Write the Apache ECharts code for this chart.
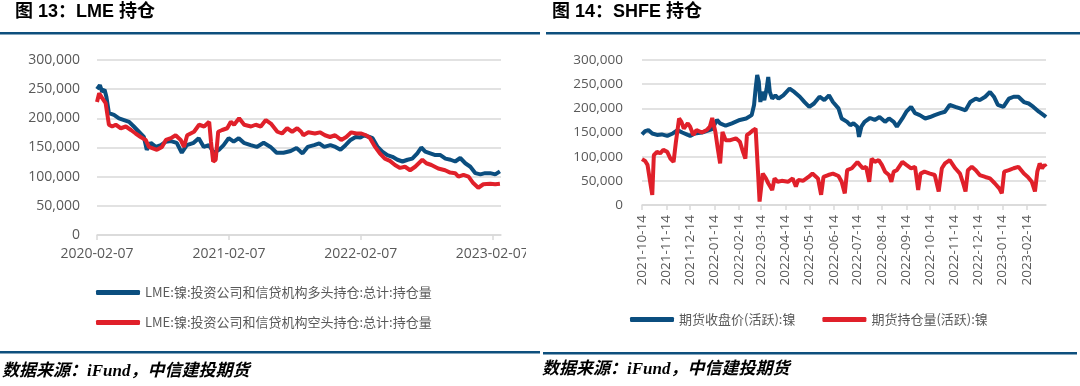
<!DOCTYPE html>
<html><head><meta charset="utf-8">
<script src="https://cdn.jsdelivr.net/npm/echarts@6/dist/echarts.min.js"></script>
<style>html,body{margin:0;padding:0;background:#fff}#c{width:1080px;height:386px}</style>
</head><body><div id="c"></div>
<script>
// ---------- LME chart data ----------
const lmeTicks = ['2020-02-07','2021-02-07','2022-02-07','2023-02-07'];
const lmeLongName = 'LME:镍:投资公司和信贷机构多头持仓:总计:持仓量';
const lmeShortName = 'LME:镍:投资公司和信贷机构空头持仓:总计:持仓量';
const lmeLongDates = ['2020-02-07','2020-02-15','2020-02-21','2020-02-28','2020-03-04','2020-03-11','2020-03-25','2020-04-08','2020-04-22','2020-05-06','2020-05-19','2020-06-02','2020-06-16','2020-06-24','2020-07-05','2020-07-19','2020-08-02','2020-08-16','2020-08-30','2020-09-15','2020-09-29','2020-10-13','2020-11-01','2020-11-15','2020-11-29','2020-12-13','2020-12-27','2021-01-10','2021-01-23','2021-02-06','2021-02-20','2021-03-06','2021-03-20','2021-04-08','2021-04-25','2021-05-14','2021-06-02','2021-06-19','2021-07-08','2021-07-28','2021-08-13','2021-08-24','2021-08-30','2021-09-13','2021-10-01','2021-10-15','2021-10-29','2021-11-15','2021-11-29','2021-12-13','2021-12-27','2022-01-10','2022-01-24','2022-02-06','2022-02-17','2022-03-03','2022-03-12','2022-03-26','2022-04-08','2022-04-22','2022-05-06','2022-05-20','2022-06-03','2022-06-17','2022-06-30','2022-07-14','2022-07-25','2022-08-05','2022-08-19','2022-09-02','2022-09-16','2022-09-30','2022-10-14','2022-10-27','2022-11-10','2022-11-24','2022-12-08','2022-12-22','2023-01-05','2023-01-18','2023-02-01','2023-02-15','2023-02-28'];
const lmeLongVals = [250000,257000,246000,249000,237000,209000,206000,200000,197000,194000,186000,177000,168000,146000,158000,151000,154000,160000,161000,158000,141000,154000,158000,166000,151000,154000,141000,146000,154000,166000,160000,166000,158000,154000,151000,158000,151000,141000,141000,144000,149000,143000,140000,151000,154000,157000,151000,154000,151000,146000,154000,163000,168000,167000,171000,168000,166000,151000,143000,137000,134000,129000,126000,129000,131000,140000,150000,143000,140000,137000,137000,131000,129000,126000,132000,123000,117000,106000,104000,106000,106000,104000,109000];
const lmeShortDates = ['2020-02-07','2020-02-13','2020-02-21','2020-03-02','2020-03-11','2020-03-20','2020-03-30','2020-04-13','2020-04-27','2020-05-11','2020-05-24','2020-06-07','2020-06-21','2020-06-30','2020-07-09','2020-07-22','2020-08-05','2020-08-16','2020-08-30','2020-09-12','2020-09-26','2020-10-05','2020-10-14','2020-11-02','2020-11-16','2020-11-30','2020-12-14','2020-12-19','2020-12-25','2021-01-01','2021-01-08','2021-01-19','2021-02-02','2021-02-12','2021-02-21','2021-03-07','2021-03-21','2021-04-09','2021-04-22','2021-05-06','2021-05-20','2021-06-03','2021-06-21','2021-07-04','2021-07-18','2021-08-01','2021-08-15','2021-08-26','2021-09-01','2021-09-15','2021-10-03','2021-10-17','2021-10-31','2021-11-14','2021-11-28','2021-12-15','2021-12-29','2022-01-12','2022-01-26','2022-02-09','2022-02-22','2022-03-05','2022-03-19','2022-04-01','2022-04-15','2022-04-29','2022-05-13','2022-05-27','2022-06-10','2022-06-24','2022-07-08','2022-07-28','2022-08-08','2022-08-22','2022-09-10','2022-09-29','2022-10-13','2022-10-27','2022-11-05','2022-11-19','2022-12-03','2022-12-16','2022-12-30','2023-01-13','2023-02-01','2023-02-15','2023-02-28'];
const lmeShortVals = [228000,243000,235000,226000,189000,186000,189000,183000,186000,180000,174000,168000,163000,151000,149000,146000,151000,163000,166000,171000,163000,151000,171000,177000,189000,186000,194000,160000,126000,129000,177000,180000,183000,194000,189000,200000,189000,186000,189000,186000,197000,191000,177000,174000,183000,177000,183000,177000,171000,176000,174000,176000,171000,168000,171000,163000,168000,176000,174000,174000,171000,166000,151000,140000,131000,127000,120000,115000,117000,111000,117000,129000,123000,120000,114000,111000,107000,106000,100000,103000,100000,89000,81000,87000,88000,87000,88000];

// ---------- SHFE chart data ----------
const shfeTicks = ['2021-10-14','2021-11-14','2021-12-14','2022-01-14','2022-02-14','2022-03-14','2022-04-14','2022-05-14','2022-06-14','2022-07-14','2022-08-14','2022-09-14','2022-10-14','2022-11-14','2022-12-14','2023-01-14','2023-02-14'];
const shfePriceName = '期货收盘价(活跃):镍';
const shfeOIName = '期货持仓量(活跃):镍';
const shfePriceDates = ['2021-10-14','2021-10-18','2021-10-22','2021-10-27','2021-11-02','2021-11-08','2021-11-15','2021-11-22','2021-11-28','2021-12-04','2021-12-11','2021-12-14','2021-12-20','2021-12-29','2022-01-11','2022-01-17','2022-01-21','2022-01-28','2022-02-05','2022-02-15','2022-02-23','2022-03-02','2022-03-05','2022-03-07','2022-03-09','2022-03-11','2022-03-13','2022-03-15','2022-03-18','2022-03-21','2022-03-23','2022-03-25','2022-03-28','2022-04-01','2022-04-05','2022-04-11','2022-04-19','2022-04-25','2022-05-02','2022-05-08','2022-05-14','2022-05-20','2022-05-27','2022-06-02','2022-06-08','2022-06-13','2022-06-20','2022-06-24','2022-07-01','2022-07-05','2022-07-09','2022-07-14','2022-07-16','2022-07-19','2022-07-23','2022-07-30','2022-08-05','2022-08-11','2022-08-18','2022-08-23','2022-08-29','2022-09-02','2022-09-09','2022-09-14','2022-09-20','2022-09-25','2022-10-01','2022-10-08','2022-10-14','2022-10-20','2022-10-27','2022-11-02','2022-11-08','2022-11-15','2022-11-21','2022-11-28','2022-12-04','2022-12-11','2022-12-16','2022-12-23','2022-12-29','2023-01-03','2023-01-08','2023-01-15','2023-01-22','2023-01-28','2023-02-03','2023-02-10','2023-02-16','2023-02-22','2023-03-01','2023-03-07','2023-03-10'];
const shfePriceVals = [146000,153000,155000,148000,145000,146000,143000,148000,155000,150000,145000,143000,148000,150000,157000,176000,169000,164000,169000,176000,179000,186000,207000,241000,269000,255000,213000,234000,217000,241000,265000,234000,220000,227000,220000,227000,241000,234000,224000,213000,203000,210000,224000,217000,227000,213000,200000,179000,172000,165000,169000,162000,141000,162000,172000,180000,176000,182000,172000,179000,172000,162000,179000,193000,203000,190000,186000,179000,182000,186000,190000,193000,207000,203000,200000,196000,213000,220000,217000,224000,234000,224000,207000,203000,220000,224000,224000,213000,210000,203000,193000,186000,182000];
const shfeOIDates = ['2021-10-14','2021-10-18','2021-10-21','2021-10-25','2021-10-27','2021-10-29','2021-11-02','2021-11-06','2021-11-10','2021-11-15','2021-11-19','2021-11-23','2021-11-26','2021-11-30','2021-12-03','2021-12-06','2021-12-11','2021-12-14','2021-12-18','2021-12-22','2021-12-29','2022-01-04','2022-01-08','2022-01-11','2022-01-15','2022-01-18','2022-01-21','2022-01-24','2022-01-28','2022-02-03','2022-02-10','2022-02-15','2022-02-19','2022-02-22','2022-02-24','2022-02-27','2022-03-04','2022-03-07','2022-03-10','2022-03-12','2022-03-14','2022-03-16','2022-03-20','2022-03-23','2022-03-28','2022-03-31','2022-04-04','2022-04-09','2022-04-17','2022-04-23','2022-04-27','2022-04-30','2022-05-06','2022-05-13','2022-05-18','2022-05-25','2022-05-29','2022-06-01','2022-06-07','2022-06-13','2022-06-20','2022-06-24','2022-06-28','2022-07-01','2022-07-07','2022-07-14','2022-07-17','2022-07-21','2022-07-25','2022-07-29','2022-08-01','2022-08-05','2022-08-10','2022-08-14','2022-08-18','2022-08-23','2022-08-26','2022-08-29','2022-09-02','2022-09-09','2022-09-14','2022-09-20','2022-09-25','2022-09-29','2022-10-02','2022-10-07','2022-10-14','2022-10-20','2022-10-25','2022-10-29','2022-11-02','2022-11-08','2022-11-15','2022-11-21','2022-11-25','2022-11-28','2022-12-01','2022-12-06','2022-12-11','2022-12-16','2022-12-23','2022-12-29','2023-01-04','2023-01-10','2023-01-13','2023-01-16','2023-01-22','2023-01-28','2023-02-03','2023-02-10','2023-02-15','2023-02-20','2023-02-24','2023-02-27','2023-03-02','2023-03-05','2023-03-08','2023-03-10'];
const shfeOIVals = [95000,91000,83000,41000,21000,103000,110000,107000,114000,110000,96000,89000,131000,179000,172000,158000,169000,162000,145000,155000,150000,155000,162000,180000,151000,117000,86000,151000,134000,134000,138000,131000,110000,96000,145000,148000,155000,158000,69000,7000,3000,65000,55000,45000,31000,55000,48000,50000,48000,55000,38000,52000,50000,58000,65000,55000,21000,58000,62000,65000,60000,48000,24000,72000,76000,89000,83000,76000,79000,48000,96000,89000,93000,83000,69000,62000,48000,69000,72000,89000,83000,76000,79000,31000,65000,69000,65000,62000,28000,76000,86000,93000,76000,65000,45000,28000,72000,79000,72000,62000,58000,55000,45000,34000,24000,69000,72000,76000,79000,65000,58000,48000,28000,69000,86000,76000,83000,79000];

// ---------- helpers ----------
const toTs = s => { const p = s.split('-').map(Number); return Date.UTC(p[0], p[1] - 1, p[2]); };
const zip = (d, v) => d.map((x, i) => [toTs(x), v[i]]);
const pad = n => (n < 10 ? '0' : '') + n;
const fmtDate = v => { const d = new Date(v); return d.getUTCFullYear() + '-' + pad(d.getUTCMonth() + 1) + '-' + pad(d.getUTCDate()); };
const fmtNum = v => v.toLocaleString('en-US');

const BLUE = '#0b4e7f', RED = '#e0202a', GRID = '#d9d9d9', TXT = '#595959', RULE = '#0d4f7d';
const numFont = '"Open Sans", "Noto Sans", sans-serif';
const cjkFont = '"Noto Sans CJK SC", sans-serif';

function xAxisCfg(idx, min, max, ticks, rotate, margin, fs) {
  const tv = ticks.map(toTs);
  return {
    type: 'value', gridIndex: idx, min: toTs(min), max: toTs(max), scale: true,
    axisLine: { show: true, lineStyle: { color: GRID, width: 1.5 } },
    axisTick: { show: true, customValues: tv, length: 5, lineStyle: { color: GRID, width: 1.5 } },
    axisLabel: { customValues: tv, formatter: fmtDate, color: TXT, fontSize: fs, fontFamily: numFont, rotate: rotate, margin: margin, hideOverlap: false },
    splitLine: { show: false }
  };
}
function yAxisCfg(idx, margin, fs) {
  return {
    type: 'value', gridIndex: idx, min: 0, max: 300000, interval: 50000,
    axisLine: { show: false }, axisTick: { show: false },
    splitLine: { lineStyle: { color: GRID, width: 1.5 } },
    axisLabel: { formatter: fmtNum, color: TXT, fontSize: fs, fontFamily: numFont, margin: margin }
  };
}
function lineSeries(name, xi, data, color) {
  return { name: name, type: 'line', xAxisIndex: xi, yAxisIndex: xi, data: data, showSymbol: false, symbol: 'none',
    lineStyle: { color: color, width: 4 }, itemStyle: { color: color }, animation: false };
}

const chart = echarts.init(document.getElementById('c'), null, { renderer: 'canvas' });
chart.setOption({
  backgroundColor: '#fff',
  animation: false,
  grid: [
    { left: 97, top: 60, width: 404, height: 175 },
    { left: 642, top: 60, width: 404, height: 145 }
  ],
  xAxis: [
    xAxisCfg(0, '2020-02-07', '2023-03-03', lmeTicks, 0, 12, 14),
    xAxisCfg(1, '2021-10-14', '2023-03-10', shfeTicks, 90, 10, 13.5)
  ],
  yAxis: [yAxisCfg(0, 17, 14), yAxisCfg(1, 19, 13.5)],
  legend: [
    { data: [lmeLongName, lmeShortName], orient: 'vertical', left: 96, top: 286, padding: 0, itemWidth: 44, itemHeight: 5, icon: 'roundRect', itemGap: 17,
      textStyle: { fontSize: 13, color: TXT, fontFamily: cjkFont } },
    { data: [shfePriceName, shfeOIName], orient: 'horizontal', left: 630, top: 313, padding: 0, itemWidth: 44, itemHeight: 5, icon: 'roundRect', itemGap: 27,
      textStyle: { fontSize: 13, color: TXT, fontFamily: cjkFont } }
  ],
  series: [
    lineSeries(lmeLongName, 0, zip(lmeLongDates, lmeLongVals), BLUE),
    lineSeries(lmeShortName, 0, zip(lmeShortDates, lmeShortVals), RED),
    lineSeries(shfePriceName, 1, zip(shfePriceDates, shfePriceVals), BLUE),
    lineSeries(shfeOIName, 1, zip(shfeOIDates, shfeOIVals), RED)
  ],
  graphic: [
    { type: 'rect', z: 100, shape: { x: 526, y: 240, width: 14, height: 24 }, style: { fill: '#fff' } },
    { type: 'text', x: 15, y: 12, style: { text: '图 13：LME 持仓', font: 'bold 18px "Liberation Sans", "Noto Sans CJK SC", sans-serif', fill: '#000', verticalAlign: 'middle' } },
    { type: 'text', x: 552, y: 12, style: { text: '图 14：SHFE 持仓', font: 'bold 18px "Liberation Sans", "Noto Sans CJK SC", sans-serif', fill: '#000', verticalAlign: 'middle' } },
    { type: 'rect', shape: { x: 0, y: 32, width: 540, height: 2.5 }, style: { fill: RULE } },
    { type: 'rect', shape: { x: 546, y: 32, width: 534, height: 2.5 }, style: { fill: RULE } },
    { type: 'rect', shape: { x: 0, y: 351, width: 540, height: 2.5 }, style: { fill: RULE } },
    { type: 'rect', shape: { x: 543, y: 352, width: 534, height: 2.5 }, style: { fill: RULE } },
    { type: 'text', x: 2, y: 372, style: { text: '数据来源：iFund，中信建投期货', font: 'italic bold 17px "Liberation Serif", "Noto Sans CJK SC", serif', fill: '#000', verticalAlign: 'middle' } },
    { type: 'text', x: 542, y: 370, style: { text: '数据来源：iFund，中信建投期货', font: 'italic bold 17px "Liberation Serif", "Noto Sans CJK SC", serif', fill: '#000', verticalAlign: 'middle' } }
  ]
});
</script></body></html>
